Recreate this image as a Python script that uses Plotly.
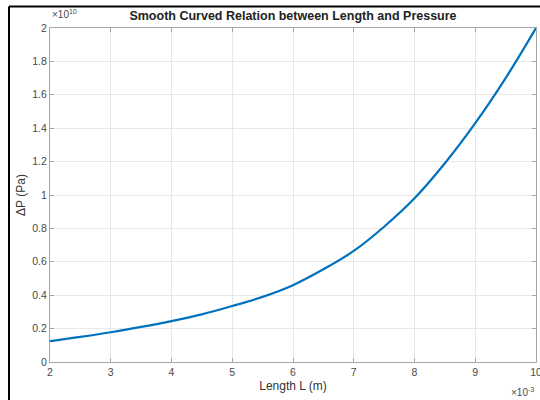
import plotly.graph_objects as go

# Length L (x 1e-3 m) and pressure drop (x 1e10 Pa)
length_L = [2, 2.5, 3, 3.5, 4, 4.5, 5, 5.5, 6, 6.5, 7, 7.5, 8, 8.5, 9, 9.5, 10]
delta_p = [0.125, 0.15, 0.178, 0.21, 0.245, 0.285, 0.335, 0.39, 0.46, 0.555,
           0.665, 0.81, 0.98, 1.19, 1.43, 1.70, 2.0]

x_ticks = [2, 3, 4, 5, 6, 7, 8, 9, 10]
y_ticks = [0, 0.2, 0.4, 0.6, 0.8, 1, 1.2, 1.4, 1.6, 1.8, 2]
y_ticktext = ["0", "0.2", "0.4", "0.6", "0.8", "1", "1.2", "1.4", "1.6", "1.8", "2"]

FONT = "Liberation Sans, Arial, sans-serif"

fig = go.Figure()
fig.add_trace(go.Scatter(
    x=length_L, y=delta_p, mode="lines",
    line=dict(color="#0072BD", width=2.2, shape="spline", smoothing=1.0),
    showlegend=False, hoverinfo="skip",
))

axis_common = dict(
    showgrid=True, gridcolor="#e8e8e8", gridwidth=1,
    showline=True, linecolor="#a6a6a6", linewidth=1, mirror="ticks",
    ticks="inside", ticklen=4, tickcolor="#a6a6a6",
    zeroline=False, ticklabeloverflow="allow", automargin=False,
    tickfont=dict(family=FONT, size=10.5, color="#4a4a4a"),
)

fig.update_xaxes(range=[2, 10], tickvals=x_ticks,
                 title=dict(text="Length L (m)", font=dict(family=FONT, size=12, color="#333333"), standoff=5),
                 **axis_common)
fig.update_yaxes(range=[0, 2], tickvals=y_ticks, ticktext=y_ticktext,
                 title=dict(text="ΔP (Pa)", font=dict(family=FONT, size=12, color="#333333"), standoff=4),
                 **axis_common)

fig.update_layout(
    width=540, height=400,
    margin=dict(l=50, r=4, t=28, b=38),
    paper_bgcolor="white", plot_bgcolor="white",
    title=dict(text="<b>Smooth Curved Relation between Length and Pressure</b>",
               x=(293 / 540), xanchor="center", y=1 - 16 / 400, yanchor="middle",
               font=dict(family=FONT, size=12.5, color="#222222")),
    annotations=[
        dict(text="×10<sup>10</sup>", xref="paper", yref="paper", x=0.0, y=1.0,
             xanchor="left", yanchor="bottom", showarrow=False, yshift=6,
             font=dict(family=FONT, size=10, color="#4a4a4a")),
        dict(text="×10<sup>-3</sup>", xref="paper", yref="paper", x=1.0, y=0.0,
             xanchor="right", yanchor="top", showarrow=False, yshift=-22,
             font=dict(family=FONT, size=10, color="#4a4a4a")),
    ],
    shapes=[
        dict(type="line", xref="paper", yref="paper",
             x0=-41 / 486, x1=-41 / 486, y0=-0.2, y1=(362 - 6.5) / 334,
             line=dict(color="black", width=2)),
        dict(type="line", xref="paper", yref="paper",
             x0=-41 / 486, x1=1.2, y0=(362 - 6.5) / 334, y1=(362 - 6.5) / 334,
             line=dict(color="black", width=2)),
    ],
)

fig.write_html("out.html")
